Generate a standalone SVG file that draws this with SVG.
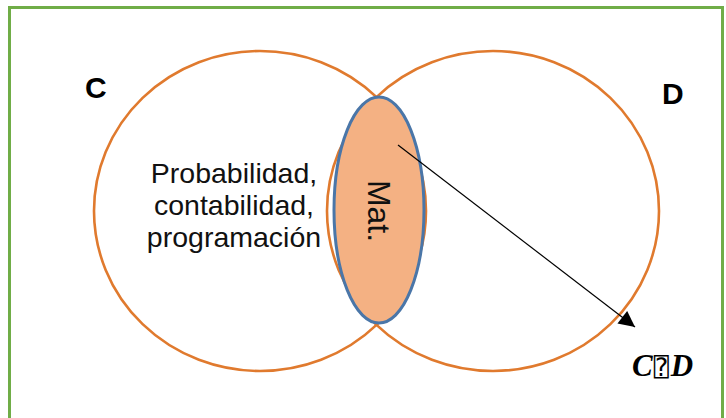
<svg xmlns="http://www.w3.org/2000/svg" width="726" height="418" viewBox="0 0 726 418">
<style>
.set{fill:none;stroke:#E07A2E;stroke-width:2.6}
.lbl{font-family:"Liberation Sans",Arial,sans-serif;font-weight:bold;font-size:30px;fill:#000}
.body{font-family:"Liberation Sans",Arial,sans-serif;font-size:28.5px;fill:#111;text-anchor:middle}
</style>
<defs>
<marker id="ah" viewBox="0 0 10 10" refX="10" refY="5" markerWidth="20" markerHeight="16" markerUnits="userSpaceOnUse" orient="auto">
<path d="M0,0 L10,5 L0,10 z" fill="#000"/>
</marker>
</defs>
<rect x="9.5" y="7.5" width="713" height="420" fill="#fff" stroke="#70AD47" stroke-width="3"/>
<g id="setC">
<ellipse class="set" cx="260" cy="211" rx="166" ry="160"/>
<text class="lbl" x="85" y="98">C</text>
<text class="body" x="234" y="183">Probabilidad,</text>
<text class="body" x="234" y="215">contabilidad,</text>
<text class="body" x="234" y="247">programación</text>
</g>
<g id="setD">
<ellipse class="set" cx="493" cy="211" rx="166" ry="160"/>
<text class="lbl" x="662" y="104">D</text>
</g>
<g id="intersection">
<ellipse cx="379" cy="210" rx="45" ry="113" fill="#F4B183" stroke="#4A76A8" stroke-width="3"/>
<text transform="translate(368,211) rotate(90)" font-family="'Liberation Sans',Arial,sans-serif" font-size="32" text-anchor="middle" fill="#111">Mat.</text>
</g>
<g id="connectors">
<line x1="398" y1="145" x2="635" y2="327" stroke="#000" stroke-width="1.2" marker-end="url(#ah)"/>
</g>
<g id="label-CD">
<text x="632" y="376" font-family="'Liberation Serif','DejaVu Serif',serif" font-weight="bold" font-style="italic" font-size="31" fill="#000">C<tspan font-style="normal" font-weight="normal" font-family="'DejaVu Sans Mono','DejaVu Sans',monospace" font-size="25" dx="1">⍰</tspan><tspan dx="2">D</tspan></text>
</g>
</svg>
